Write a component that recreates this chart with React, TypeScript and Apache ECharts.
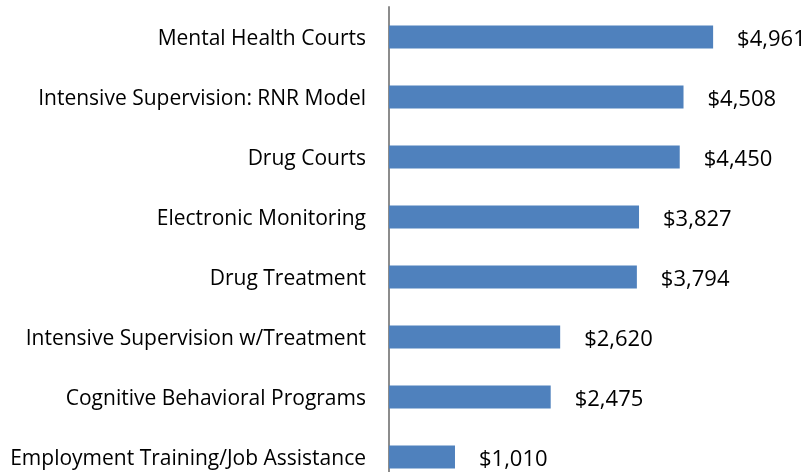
import React, { useEffect, useRef } from "react";
import * as echarts from "echarts";

const categories = [
  "Mental Health Courts",
  "Intensive Supervision: RNR Model",
  "Drug Courts",
  "Electronic Monitoring",
  "Drug Treatment",
  "Intensive Supervision w/Treatment",
  "Cognitive Behavioral Programs",
  "Employment Training/Job Assistance",
];
const values = [4961, 4508, 4450, 3827, 3794, 2620, 2475, 1010];

export default function App() {
  const ref = useRef<HTMLDivElement>(null);
  useEffect(() => {
    const chart = echarts.init(ref.current!, null, { renderer: "svg" });
    chart.setOption({
      animation: false,
      grid: { left: 389, top: 7, width: 392, height: 480 },
      xAxis: {
        type: "value",
        min: 0,
        max: 6000,
        show: false,
      },
      yAxis: {
        type: "category",
        data: categories,
        inverse: true,
        axisLine: { show: true, lineStyle: { color: "#8c8c8c", width: 2 } },
        axisTick: { show: false },
        axisLabel: {
          margin: 23,
          color: "#000",
          fontFamily: "Open Sans",
          fontSize: 21,
        },
      },
      series: [
        {
          type: "bar",
          data: values,
          barWidth: 23,
          itemStyle: { color: "#4F81BD" },
          label: {
            show: true,
            position: "right",
            distance: 24,
            color: "#000",
            fontFamily: "Open Sans",
            fontSize: 22,
            formatter: (p: any) => "$" + p.value.toLocaleString("en-US"),
          },
        },
      ],
    });
    return () => chart.dispose();
  }, []);
  return (
    <div
      style={{
        position: "fixed",
        left: 0,
        top: 0,
        width: 812,
        height: 472,
        overflow: "hidden",
      }}
    >
      <div ref={ref} style={{ width: 812, height: 500 }} />
    </div>
  );
}
